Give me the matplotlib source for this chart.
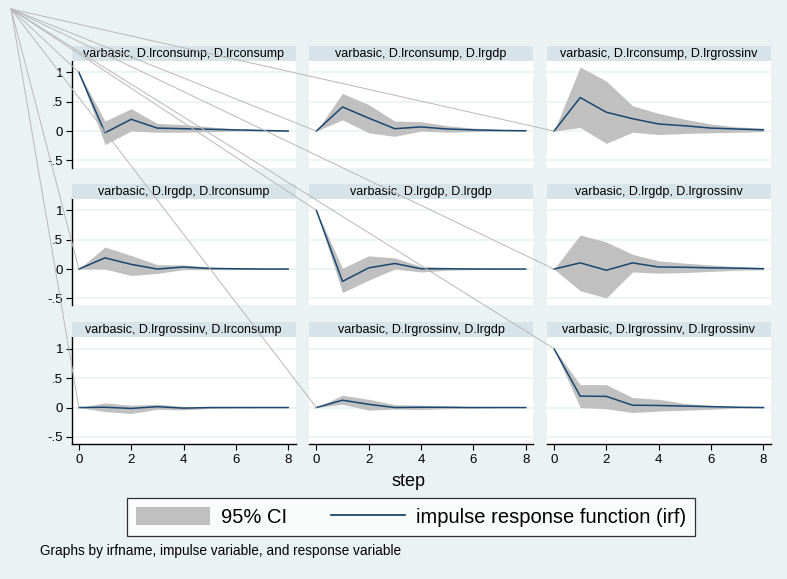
import matplotlib
matplotlib.use("Agg")
import matplotlib.pyplot as plt
from matplotlib.patches import Patch, ConnectionPatch
from matplotlib.lines import Line2D

plt.rcParams['font.family'] = ['Liberation Sans', 'DejaVu Sans']

# ---------------- data ----------------
steps = [0, 1, 2, 3, 4, 5, 6, 7, 8]
irf_name = "varbasic"
variables = ["D.lrconsump", "D.lrgdp", "D.lrgrossinv"]
yticks = [-0.5, 0, 0.5, 1]
ytick_labels = ["-.5", "0", ".5", "1"]
xticks = [0, 2, 4, 6, 8]

# impulse D.lrconsump
irf_c_c = [1.0, -0.03, 0.20, 0.05, 0.04, 0.03, 0.02, 0.01, 0.0]
lo_c_c = [1.0, -0.23, 0.0, -0.02, -0.02, -0.01, 0.0, 0.0, -0.005]
hi_c_c = [1.0, 0.17, 0.38, 0.13, 0.11, 0.07, 0.04, 0.02, 0.01]

irf_c_g = [0.0, 0.41, 0.22, 0.04, 0.07, 0.035, 0.02, 0.01, 0.005]
lo_c_g = [0.0, 0.19, -0.03, -0.09, 0.0, -0.02, -0.01, 0.0, 0.0]
hi_c_g = [0.0, 0.64, 0.45, 0.17, 0.16, 0.09, 0.05, 0.03, 0.01]

irf_c_i = [0.0, 0.57, 0.32, 0.21, 0.12, 0.09, 0.05, 0.035, 0.02]
lo_c_i = [0.0, 0.06, -0.21, -0.02, -0.06, -0.04, -0.03, -0.02, -0.01]
hi_c_i = [0.0, 1.09, 0.85, 0.43, 0.30, 0.20, 0.12, 0.07, 0.05]

# impulse D.lrgdp
irf_g_c = [0.0, 0.19, 0.08, 0.0, 0.035, 0.01, 0.005, 0.0, 0.0]
lo_g_c = [0.0, 0.0, -0.11, -0.075, -0.01, -0.01, -0.01, 0.0, 0.0]
hi_g_c = [0.0, 0.375, 0.23, 0.075, 0.07, 0.035, 0.02, 0.01, 0.005]

irf_g_g = [1.0, -0.21, 0.02, 0.095, 0.005, 0.005, 0.0, 0.0, 0.0]
lo_g_g = [1.0, -0.40, -0.19, 0.0, -0.05, -0.02, -0.01, 0.0, 0.0]
hi_g_g = [1.0, 0.015, 0.225, 0.19, 0.045, 0.03, 0.02, 0.01, 0.005]

irf_g_i = [0.0, 0.105, -0.02, 0.105, 0.035, 0.03, 0.02, 0.015, 0.005]
lo_g_i = [0.0, -0.37, -0.49, -0.05, -0.07, -0.06, -0.04, -0.02, -0.01]
hi_g_i = [0.0, 0.58, 0.46, 0.25, 0.14, 0.10, 0.07, 0.04, 0.03]

# impulse D.lrgrossinv
irf_i_c = [0.0, 0.005, -0.015, 0.015, -0.01, 0.0, 0.0, 0.0, 0.0]
lo_i_c = [0.0, -0.07, -0.10, -0.03, -0.04, -0.015, -0.005, 0.0, 0.0]
hi_i_c = [0.0, 0.08, 0.04, 0.055, 0.02, 0.01, 0.005, 0.0, 0.0]

irf_i_g = [0.0, 0.125, 0.055, 0.0, 0.005, 0.005, 0.0, 0.0, 0.0]
lo_i_g = [0.0, 0.055, -0.045, -0.025, -0.035, -0.02, -0.01, 0.0, 0.0]
hi_i_g = [0.0, 0.21, 0.14, 0.05, 0.04, 0.02, 0.01, 0.005, 0.0]

irf_i_i = [1.0, 0.195, 0.19, 0.04, 0.035, 0.025, 0.015, 0.005, 0.0]
lo_i_i = [1.0, 0.0, -0.02, -0.085, -0.06, -0.045, -0.03, -0.01, -0.005]
hi_i_i = [1.0, 0.39, 0.39, 0.17, 0.14, 0.07, 0.04, 0.02, 0.005]

panels = [
    [(irf_c_c, lo_c_c, hi_c_c), (irf_c_g, lo_c_g, hi_c_g), (irf_c_i, lo_c_i, hi_c_i)],
    [(irf_g_c, lo_g_c, hi_g_c), (irf_g_g, lo_g_g, hi_g_g), (irf_g_i, lo_g_i, hi_g_i)],
    [(irf_i_c, lo_i_c, hi_i_c), (irf_i_g, lo_i_g, hi_i_g), (irf_i_i, lo_i_i, hi_i_i)],
]

# ---------------- style ----------------
BG = "#EAF2F3"
STRIP = "#D6E3E9"
GRID = "#EAF2F3"
CI = "#C0C0C0"
NAVY = "#1A476F"
ARTIFACT = "#B8B8B8"

W, H = 787, 579
fig = plt.figure(figsize=(W / 100, H / 100), dpi=100, facecolor=BG)

col_left = [71.5, 309.0, 546.7]
row_top = [60.5, 198.5, 337.0]
pw, ph = 224.0, 107.0
strip_h = 15.0
anchor = (11 / W, 1 - 9 / H)

for r in range(3):
    for c in range(3):
        irf, lo, hi = panels[r][c]
        l, t = col_left[c], row_top[r]
        ax = fig.add_axes([l / W, 1 - (t + ph) / H, pw / W, ph / H])
        ax.set_facecolor("white")
        ax.fill_between(steps, lo, hi, color=CI, lw=0, zorder=2)
        ax.plot(steps, irf, color=NAVY, lw=1.1, zorder=3)
        ax.set_xlim(-0.28, 8.28)
        ax.set_ylim(-0.62, 1.2)
        ax.set_yticks(yticks)
        ax.set_xticks(xticks)
        ax.yaxis.grid(True, color=GRID, lw=1.2, zorder=0)
        ax.set_axisbelow(True)
        for s in ax.spines.values():
            s.set_visible(False)
        if c == 0:
            ax.spines["left"].set_visible(True)
            ax.spines["left"].set_color("black")
            ax.spines["left"].set_linewidth(1.0)
            ax.set_yticklabels(ytick_labels)
            ax.tick_params(axis="y", length=4, width=0.8, pad=2,
                           labelsize=9.5, direction="out")
        else:
            ax.tick_params(axis="y", length=0, labelleft=False)
        if r == 2:
            ax.spines["bottom"].set_visible(True)
            ax.spines["bottom"].set_color("black")
            ax.spines["bottom"].set_linewidth(1.0)
            ax.tick_params(axis="x", length=4, width=0.8, pad=3,
                           labelsize=9.5, direction="out")
        else:
            ax.tick_params(axis="x", length=0, labelbottom=False)

        sax = fig.add_axes([l / W, 1 - t / H, pw / W, strip_h / H])
        sax.set_facecolor(STRIP)
        sax.set_xticks([])
        sax.set_yticks([])
        for s in sax.spines.values():
            s.set_visible(False)
        sax.text(0.5, 0.45, f"{irf_name}, {variables[r]}, {variables[c]}",
                 ha="center", va="center", fontsize=9, transform=sax.transAxes)

        con = ConnectionPatch(xyA=anchor, coordsA="figure fraction",
                              xyB=(steps[0], irf[0]), coordsB="data", axesB=ax,
                              color=ARTIFACT, lw=0.7, zorder=20)
        fig.add_artist(con)

fig.text(408 / W, 1 - 481 / H, "step", ha="center", va="center", fontsize=13)

handles = [Patch(facecolor=CI, edgecolor="none", label="95% CI"),
           Line2D([], [], color=NAVY, lw=1.3, label="impulse response function (irf)")]
leg = fig.legend(handles=handles, loc="center", bbox_to_anchor=(411 / W, 1 - 517 / H),
                 ncol=2, frameon=True, fancybox=False, fontsize=14.5,
                 handlelength=3.7, handleheight=1.0, handletextpad=0.55,
                 columnspacing=2.15, borderpad=0.45, borderaxespad=0)
leg.get_frame().set_edgecolor("black")
leg.get_frame().set_linewidth(0.9)
leg.get_frame().set_facecolor("white")

fig.text(40 / W, 1 - 551 / H,
         "Graphs by irfname, impulse variable, and response variable",
         ha="left", va="center", fontsize=9.8)

fig.savefig("out.png", dpi=100, facecolor=BG)
